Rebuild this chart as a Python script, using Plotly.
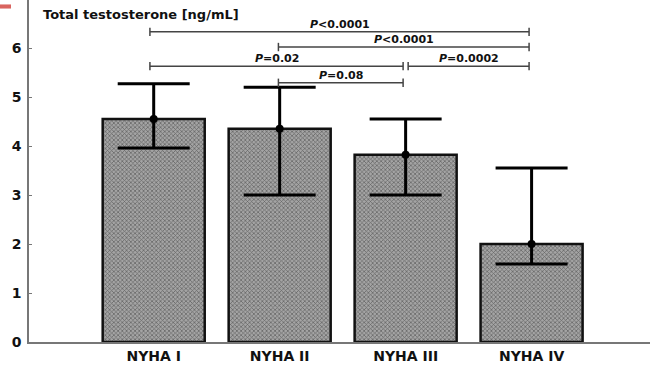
import plotly.graph_objects as go

# Testosterone by NYHA class
categories = ["NYHA I", "NYHA II", "NYHA III", "NYHA IV"]
means = [4.55, 4.35, 3.82, 2.0]
upper = [5.27, 5.2, 4.55, 3.55]
lower = [3.96, 3.0, 3.0, 1.59]

# Pairwise comparisons: start group, end group, height, label
cmp_start = [-0.03, 0.99, -0.03, 2.02, 0.99]
cmp_end = [2.98, 2.98, 1.98, 2.98, 1.98]
cmp_height = [6.33, 6.02, 5.63, 5.63, 5.29]
cmp_label = ["<i>P</i>&lt;0.0001", "<i>P</i>&lt;0.0001", "<i>P</i>=0.02",
             "<i>P</i>=0.0002", "<i>P</i>=0.08"]

y_ticks = [0, 1, 2, 3, 4, 5, 6]

FONT = "DejaVu Sans"
xpos = list(range(len(categories)))

fig = go.Figure()

fig.add_trace(go.Bar(
    x=xpos, y=means, width=0.81,
    marker=dict(
        color="#8a8a8a",
        line=dict(color="#111", width=2.5),
        pattern=dict(shape="x", size=3, solidity=0.4,
                     fgcolor="#1e1e1e", bgcolor="#a4a4a4"),
    ),
    hoverinfo="skip", showlegend=False,
))

fig.add_trace(go.Scatter(
    x=xpos, y=means, mode="markers",
    marker=dict(color="#000", size=8),
    error_y=dict(
        type="data", symmetric=False,
        array=[u - m for u, m in zip(upper, means)],
        arrayminus=[m - l for m, l in zip(means, lower)],
        color="#000", thickness=3, width=36,
    ),
    hoverinfo="skip", showlegend=False,
))

for x0, x1, h, lab in zip(cmp_start, cmp_end, cmp_height, cmp_label):
    fig.add_trace(go.Scatter(
        x=[x0, x1], y=[h, h], mode="lines+markers",
        line=dict(color="#444", width=1.5),
        marker=dict(symbol="line-ns-open", size=6,
                    line=dict(color="#444", width=1.5)),
        hoverinfo="skip", showlegend=False,
    ))
    fig.add_annotation(
        x=(x0 + x1) / 2, y=h, text="<b>" + lab + "</b>",
        showarrow=False, xanchor="center", yanchor="bottom", yshift=-1,
        font=dict(family=FONT, size=11, color="#111"),
    )

fig.add_annotation(
    xref="paper", yref="paper", x=0.019, y=0.959,
    text="<b>Total testosterone [ng/mL]</b>", showarrow=False,
    xanchor="left", yanchor="middle",
    font=dict(family=FONT, size=13, color="#111"),
)

# small red strip in the top-left corner
fig.add_shape(
    type="rect", xref="paper", yref="paper",
    x0=-0.0467, x1=-0.029, y0=0.975, y1=0.987,
    fillcolor="#d9645f", line=dict(width=0), layer="above",
)

fig.update_layout(
    width=650, height=365,
    margin=dict(l=29, r=0, t=0, b=23),
    paper_bgcolor="white", plot_bgcolor="white",
    bargap=0.2,
    xaxis=dict(
        range=[-0.99, 3.94], tickvals=xpos,
        ticktext=["<b>" + c + "</b>" for c in categories],
        showline=True, linecolor="#777", linewidth=1.5,
        showgrid=False, zeroline=False, ticks="",
        tickfont=dict(family=FONT, size=14, color="#111"),
        fixedrange=True,
    ),
    yaxis=dict(
        range=[0, 6.98], tickvals=y_ticks,
        ticktext=["<b>%d</b>" % t for t in y_ticks],
        showline=True, linecolor="#777", linewidth=1.5,
        showgrid=False, zeroline=False,
        ticks="inside", ticklen=3, tickcolor="#777", tickwidth=1,
        ticklabelstandoff=3,
        tickfont=dict(family=FONT, size=14, color="#111"),
        fixedrange=True,
    ),
)

fig.write_html("out.html")
